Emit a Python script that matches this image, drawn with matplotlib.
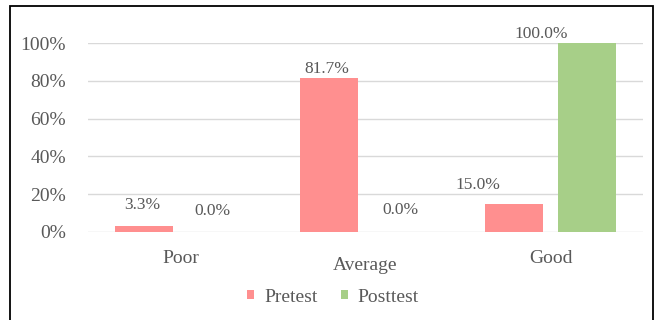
import matplotlib
matplotlib.use("Agg")
import matplotlib.pyplot as plt
import matplotlib.transforms as mtransforms
from matplotlib.patches import Rectangle
import numpy as np

categories = ["Poor", "Average", "Good"]
pretest = [3.3, 81.7, 15.0]
posttest = [0.0, 0.0, 100.0]
yticks = [0, 20, 40, 60, 80, 100]

PINK = "#FF8F8F"
GREEN = "#A7CF88"
TEXT = "#595959"
GRID = "#D9D9D9"
SERIF = ["Liberation Serif", "DejaVu Serif"]

plt.rcParams["font.family"] = SERIF

fig = plt.figure(figsize=(6.6, 3.2), dpi=100)
ax = fig.add_axes([88 / 660, 88 / 320, 555 / 660, 189 / 320])

x = np.arange(len(categories))
w = 0.313
off = 0.195
b1 = ax.bar(x - off, pretest, w, color=PINK, label="Pretest", zorder=3)
b2 = ax.bar(x + off, posttest, w, color=GREEN, label="Posttest", zorder=3)

ax.set_xlim(-0.5, len(categories) - 0.5)
ax.set_ylim(0, 100)
ax.set_yticks(yticks)
ax.set_yticklabels([f"{v}%" for v in yticks], fontsize=14, color=TEXT)
ax.tick_params(axis="y", length=0, pad=16)
ax.set_xticks([])
for s in ax.spines.values():
    s.set_visible(False)
for v in yticks:
    ax.axhline(v, color=GRID, lw=1.0, zorder=1)

# category names sit under each group; "Average" is set a little lower
cat_dy = [-18, -25, -18]
for xi, name, dy in zip(x, categories, cat_dy):
    tr = ax.get_xaxis_transform() + mtransforms.ScaledTranslation(0, dy / 100, fig.dpi_scale_trans)
    ax.text(xi, 0, name, transform=tr, ha="center", va="top", fontsize=14, color=TEXT)

# value labels, nudged by hand (pixel offsets)
pre_shift = [(-2, 13), (-3, 1), (-37, 11)]
post_shift = [(-4, 13), (-1, 14), (-45, 1)]
for bars, vals, shifts in ((b1, pretest, pre_shift), (b2, posttest, post_shift)):
    for rect, v, (dx, dy) in zip(bars, vals, shifts):
        cx = rect.get_x() + rect.get_width() / 2
        ax.annotate(f"{v:.1f}%", (cx, v), xytext=(dx * 0.72, dy * 0.72),
                    textcoords="offset points", ha="center", va="bottom",
                    fontsize=12.5, color=TEXT, annotation_clip=False)

leg = fig.legend(handles=[b1, b2], loc="center", bbox_to_anchor=(333 / 660, 1 - 297 / 320),
                 ncol=2, frameon=False, fontsize=14,
                 handlelength=0.35, handleheight=0.35,
                 handletextpad=0.5, columnspacing=1.2)
for t in leg.get_texts():
    t.set_fontfamily("Liberation Serif")
    t.set_color(TEXT)

# outer frame (bottom edge falls outside the canvas)
fig.patches.append(Rectangle((10 / 660, -0.05), 643 / 660, 1.05 - 6 / 320,
                             transform=fig.transFigure, fill=False,
                             edgecolor="black", lw=1.3))

fig.savefig("out.png", dpi=100)
